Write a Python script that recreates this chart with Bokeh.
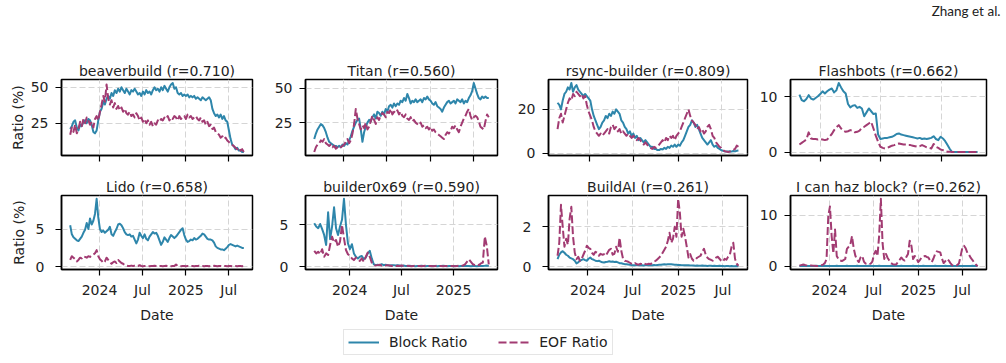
import pandas as pd
from bokeh.plotting import figure
from bokeh.layouts import column, row
from bokeh.models import (Range1d, FixedTicker, CustomJSTickFormatter, Legend,
                          LegendItem, Label, ColumnDataSource)
from bokeh.embed import file_html
from bokeh.resources import INLINE

BLOCK_COLOR = "#2E86AB"
EOF_COLOR = "#A23B72"
LEGEND_LABELS = ["Block Ratio", "EOF Ratio"]

BUILDERS = ["beaverbuild", "Titan", "rsync-builder", "Flashbots",
            "Lido", "builder0x69", "BuildAI", "I can haz block?"]
CORR = [0.710, 0.560, 0.809, 0.662, 0.658, 0.590, 0.261, 0.262]
START_DATES = ["2023-08-30", "2023-08-31", "2023-08-21", "2023-10-30",
               "2023-08-30", "2023-08-29", "2023-08-31", "2023-08-31"]
END_DATES = ["2025-09-03", "2025-09-05", "2025-09-08", "2025-04-21",
             "2025-09-03", "2025-05-05", "2025-09-02", "2025-09-01"]
Y_TICKS = [[25, 50], [25, 50], [0, 20], [0, 10], [0, 5], [0, 5], [0, 2], [0, 10]]
X_TICK_DATES = ["2024-01-01", "2024-07-01", "2025-01-01", "2025-07-01"]
X_TICK_LABELS = ["2024", "Jul", "2025", "Jul"]

beaverbuild_block = [21,23,26,27,22,20,24,23,26,27, 25,28,27,24,19,18,20,27,33,35,
    40,38,42,44,42,46,44,48,46,49, 47,50,48,46,49,47,45,48,47,49,
    47,45,46,44,47,45,48,46,47,45, 48,50,48,49,47,50,48,51,49,47,
    50,52,53,49,50,46,45,46,44,45, 44,45,43,44,43,44,42,43,42,41,
    43,42,41,42,43,41,35,32,30,31, 29,31,28,30,27,26,20,14,10,9, 7,8,6,6,5,5]
beaverbuild_eof = [17,22,19,24,18,21,26,23,28,25, 29,27,24,26,22,28,30,27,33,38,
    44,40,52,42,38,41,36,39,35,37, 34,36,33,35,32,31,33,30,31,29,
    32,30,27,29,26,28,25,27,24,26, 23,25,24,27,26,28,27,29,28,30,
    27,29,28,30,29,27,30,28,29,30, 28,31,29,30,28,29,30,28,27,29,
    26,27,24,26,23,24,21,22,19,18, 17,15,16,14,15,13,12,11,10,9, 8,7,8,6,7,5]

titan_block = [13,17,20,22,24,23,21,18,14,11, 10,9,8,8,7,8,7,9,8,10,
    9,12,15,19,22,25,27,28,20,11, 18,22,25,27,26,29,31,28,33,32,
    30,33,31,35,33,37,38,36,39,37, 39,38,41,40,43,41,46,43,39,41,
    40,42,40,41,42,40,43,42,44,42, 41,39,38,40,37,36,35,33,36,38,
    40,41,39,40,41,39,42,41,40,42, 39,41,40,43,45,48,54,50,46,43, 42,44,43,44,43,43]
titan_eof = [3.5,7,9,10,12,11,13,10,9,8, 9,7,8,6,7,6,7,8,9,11,
    13,10,12,17,24,35,28,24,20,23, 21,25,20,22,26,30,27,24,29,27,
    30,32,31,29,33,32,35,31,33,32, 34,31,33,30,29,31,28,27,29,26,
    27,25,24,23,25,22,23,21,22,20, 22,19,20,18,17,16,15,14,13,16,
    18,17,19,22,21,23,20,18,22,25, 28,30,33,35,30,27,29,30,29,26, 22,21,20,26,31,29]

rsync_block = [23,22,20,24,27,28,30,29,32,28, 30,31,29,28,27,26,27,26,25,24,
    20,17,15,13,11,12,14,15,17,16, 18,17,19,18,20,19,18,15,14,12,
    11,9,10,8,9,7,8,6,7,6, 5,6,5,4,3,3,2,2,1.5,1.5,
    2,1.8,2.5,2,3,2.5,3.5,3,4,3, 4,3.5,5,6,8,10,12,13,15,14,
    12,13,11,9,7,6,5,4,5,6, 4,3,3.5,2.5,2,1.5,1.2,1,0.9,0.8, 1,0.8,1.1,0.9,1.2,1.3]
rsync_eof = [11,16,18,14,17,20,23,25,24,27, 26,28,27,26,27,25,26,22,19,17,
    15,12,10,9,8,9,8,9,10,11, 9,12,13,11,12,10,11,9,10,9,
    8,9,8,7,8,7,6,7,6,5, 4,5,4,3,2.5,2,3,2.5,3,4,
    5,6,5,7,6,8,7,8,6,8, 9,10,12,14,16,18,20,17,15,14,
    13,11,12,10,11,9,10,12,13,11, 8,7,5,4,3,2.5,1.5,1,0.8,0.6, 0.8,1,1.5,2,3.5,3]

flashbots_block = [10.4,9.4,9.2,9.6,10.3,9.7,9.5,9.8,10.1,10.5,
    11.0,10.6,11.0,11.3,11.5,10.8,11.2,12.5,11.7,11.0,
    10.6,8.7,8.1,8.4,8.5,8.0,8.2,7.9,6.5,7.2,
    7.9,7.4,6.9,7.0,3.2,2.4,2.5,2.6,2.6,2.7,
    2.8,3.0,3.3,3.4,3.2,3.1,3.0,2.9,2.8,2.7,
    2.6,2.5,2.6,2.4,2.5,2.4,2.5,2.6,2.9,2.4,
    2.2,2.8,2.5,2.0,1.3,0.6,0.05,0.05,0.05,0.05,
    0.05,0.05,0.05,0.05,0.05,0.05,0.05,0.05]
flashbots_eof = [1.4,1.7,2.0,2.3,3.6,2.5,2.4,2.4,2.3,2.4,
    2.3,2.2,2.3,2.8,3.3,4.0,4.5,4.9,4.3,3.9,
    3.7,3.8,4.0,3.9,3.6,3.7,3.9,4.4,4.6,4.9,
    5.2,5.5,4.3,3.0,1.9,1.0,0.8,0.7,0.8,1.0,
    1.2,1.3,1.5,1.6,1.5,1.4,1.4,1.3,1.3,1.2,
    1.1,1.0,1.1,1.3,1.1,0.9,0.8,0.7,1.5,1.0,
    0.8,0.5,0.4,0.2,0.1,0.1,0.05,0.05,0.05,0.05,
    0.05,0.05,0.05,0.05,0.05,0.05,0.05,0.05]

lido_block = [5.5,4.3,3.9,3.7,3.5,3.4,3.7,4.0,4.5,4.9, 5.8,5.0,6.4,5.6,6.1,7.0,9.0,6.5,5.0,4.6,
    4.8,4.5,4.7,4.9,5.3,4.3,4.1,4.6,5.0,5.6, 5.7,5.5,5.1,4.6,4.3,4.2,4.3,4.0,4.1,3.6,
    3.1,3.6,4.5,4.1,3.8,4.3,3.7,3.5,4.0,4.3, 4.6,4.4,4.5,4.1,3.5,2.9,3.3,3.9,3.6,3.3,
    3.8,4.2,4.0,3.8,4.0,4.3,4.6,4.9,5.1,4.2, 3.6,3.3,3.4,3.6,3.5,3.8,3.6,3.7,3.9,4.1,
    4.4,4.3,4.0,3.7,3.6,3.6,3.5,3.2,2.7,2.5, 2.4,2.3,2.3,2.2,2.4,2.6,2.9,3.0,2.9,2.8,
    2.7,2.8,2.7,2.6,2.5,2.5]
lido_eof = [0.9,1.4,1.2,1.0,0.7,0.9,1.2,1.1,1.4,1.3, 1.2,1.4,1.3,1.5,1.6,1.8,2.2,1.4,1.0,0.8,
    0.5,0.7,1.2,0.9,0.6,0.4,0.6,0.7,0.5,0.9, 0.7,0.5,0.4,0.2,0.15,0.1,0.1,0.15,0.1,0.12,
    0.1,0.1,0.2,0.1,0.08,0.1,0.12,0.1,0.08,0.1, 0.1,0.12,0.1,0.08,0.1,0.1,0.08,0.1,0.12,0.1,
    0.1,0.08,0.1,0.1,0.3,0.12,0.1,0.08,0.1,0.1, 0.08,0.1,0.1,0.12,0.1,0.08,0.1,0.1,0.12,0.1,
    0.1,0.08,0.1,0.1,0.08,0.1,0.1,0.12,0.1,0.08, 0.1,0.1,0.08,0.1,0.1,0.08,0.1,0.1,0.08,0.1,
    0.1,0.08,0.1,0.1,0.08,0.1]

builder0x69_block = [5.2,4.8,4.6,5.1,4.5,3.8,2.6,6.5,3.3,4.8, 7.1,4.6,3.8,4.8,5.6,8.1,5.0,2.8,2.1,2.7,
    1.6,1.2,1.0,1.2,1.3,0.9,1.1,1.6,1.9,1.0, 0.3,0.2,0.25,0.2,0.3,0.2,0.25,0.2,0.15,0.2,
    0.2,0.15,0.2,0.15,0.1,0.15,0.1,0.1,0.12,0.1, 0.1,0.08,0.1,0.1,0.12,0.1,0.08,0.1,0.1,0.08,
    0.1,0.1,0.08,0.1,0.1,0.12,0.1,0.08,0.1,0.1, 0.08,0.1,0.1,0.08,0.1,0.1,0.12,0.1,0.1,0.08,
    0.1,0.1,0.08,0.1,0.1,0.1,0.12,0.15,0.1]
builder0x69_eof = [1.9,1.6,1.8,1.5,2.1,1.2,1.6,1.4,2.6,3.6, 2.9,3.2,2.4,3.0,5.0,3.4,2.0,1.5,1.3,1.0,
    0.8,1.1,0.9,0.7,1.0,0.6,1.2,1.7,1.2,0.5, 0.2,0.15,0.2,0.25,0.15,0.2,0.15,0.2,0.15,0.1,
    0.15,0.1,0.12,0.1,0.15,0.1,0.1,0.12,0.1,0.08, 0.1,0.12,0.1,0.1,0.08,0.1,0.12,0.1,0.1,0.1,
    0.08,0.1,0.12,0.1,0.1,0.08,0.1,0.1,0.12,0.1, 0.1,0.08,0.1,0.12,0.1,0.15,0.3,0.6,0.9,0.6,
    0.3,0.2,0.3,0.2,0.4,0.5,3.6,2.5,0.3]

buildai_block = [0.38,0.6,0.72,0.78,0.7,0.6,0.55,0.46,0.42,0.38, 0.3,0.17,0.22,0.3,0.34,0.38,0.33,0.3,0.4,0.46,
    0.38,0.35,0.3,0.28,0.3,0.26,0.22,0.21,0.24,0.25, 0.27,0.25,0.26,0.24,0.25,0.22,0.18,0.17,0.15,0.13,
    0.12,0.11,0.1,0.08,0.08,0.07,0.07,0.07,0.08,0.07, 0.06,0.07,0.08,0.07,0.07,0.08,0.09,0.08,0.09,0.1,
    0.1,0.11,0.12,0.11,0.12,0.13,0.12,0.11,0.1,0.1, 0.09,0.09,0.08,0.08,0.07,0.07,0.07,0.06,0.06,0.06,
    0.05,0.06,0.05,0.05,0.06,0.05,0.05,0.04,0.05,0.05, 0.04,0.05,0.04,0.04,0.05,0.04,0.04,0.03,0.04,0.04,
    0.03,0.04,0.03,0.03,0.04,0.03]
buildai_eof = [0.55,1.2,3.1,2.0,1.0,1.4,1.1,2.4,3.0,1.5, 0.7,0.38,0.5,0.3,0.4,0.6,0.8,1.05,0.95,0.9,
    0.7,0.6,0.75,0.7,0.55,0.65,0.6,0.63,0.55,0.7, 0.85,0.9,0.6,0.65,1.0,0.75,1.45,0.8,0.4,0.3,
    0.28,0.25,0.2,0.15,0.13,0.18,0.12,0.1,0.15,0.12, 0.17,0.14,0.12,0.15,0.13,0.2,0.25,0.3,0.38,0.46,
    0.55,0.7,0.85,1.0,1.3,1.7,1.2,1.4,2.0,1.5, 3.4,2.7,1.5,1.9,1.5,1.0,0.46,0.63,0.4,0.3,
    0.35,0.45,0.5,0.55,0.75,0.9,0.6,0.45,0.38,0.35, 0.3,0.4,0.46,0.5,0.4,0.3,0.25,0.4,0.35,0.5,
    0.6,1.0,1.2,0.4,0.15,0.05]

ichb_block = [0.05,0.04,0.05,0.06,0.05,0.04,0.05,0.05,0.04,0.05, 0.06,0.05,0.04,0.05,0.05,0.06,0.05,0.04,0.05,0.05,
    0.04,0.05,0.06,0.05,0.05,0.04,0.05,0.05,0.06,0.05, 0.05,0.04,0.05,0.05,0.06,0.05,0.04,0.05,0.05,0.04,
    0.05,0.06,0.05,0.05,0.04,0.05,0.05,0.06,0.05,0.04, 0.05,0.05,0.04,0.05,0.06,0.05,0.05,0.04,0.05,0.05,
    0.06,0.05,0.04,0.05,0.05,0.04,0.05,0.06,0.05,0.05, 0.04,0.05,0.05,0.06,0.05,0.04,0.05,0.05,0.04,0.05,
    0.06,0.05,0.05,0.04,0.05,0.05,0.06,0.05,0.04,0.05, 0.05,0.04,0.05,0.06,0.05,0.05,0.04,0.05,0.05,0.04,
    0.05,0.05,0.06,0.05,0.04,0.05]
ichb_eof = [0.1,0.2,0.3,0.25,0.15,0.1,0.1,0.12,0.1,0.08, 0.05,0.05,0.1,0.2,0.3,0.6,1.4,9.8,11.7,5.9,
    2.5,7.2,2.0,1.4,1.1,1.0,1.2,1.4,3.4,3.8, 4.2,5.9,3.5,2.0,1.2,0.8,1.7,2.0,0.9,0.5,
    0.45,0.4,0.5,0.9,2.4,3.0,2.0,6.0,13.2,4.5, 1.4,2.4,1.6,1.1,0.6,0.4,0.3,0.3,0.8,1.2,
    1.7,1.3,1.1,1.8,2.4,5.0,4.0,1.4,2.0,1.5, 0.8,1.2,1.7,1.9,2.0,1.8,1.7,1.1,0.8,1.5,
    2.4,2.9,2.8,2.7,1.5,0.6,1.0,1.4,1.1,0.6, 0.2,0.1,0.1,0.2,0.5,2.0,3.6,4.0,3.5,2.6,
    2.2,1.6,1.2,0.7,0.3,0.0]

BLOCK = [beaverbuild_block, titan_block, rsync_block, flashbots_block,
         lido_block, builder0x69_block, buildai_block, ichb_block]
EOF = [beaverbuild_eof, titan_eof, rsync_eof, flashbots_eof,
       lido_eof, builder0x69_eof, buildai_eof, ichb_eof]

# layout geometry (pixels)
COL_WIDTHS = [262, 244, 246, 254]
COL_LEFT = [61, 43, 42, 38]
COL_RIGHT = [10, 9, 5, 20]
ROW_HEIGHTS = [120, 150]
ROW_TOP = [24, 20]
ROW_BOTTOM = [20, 55]

FONT = "DejaVu Sans"
TEXT_COLOR = "#222222"
DASH = "8 3"


def ms(t):
    return pd.Timestamp(t).value / 1e6


def panel(i):
    r, c = divmod(i, 4)
    blk, eof = BLOCK[i], EOF[i]
    d_blk = pd.date_range(START_DATES[i], END_DATES[i], periods=len(blk))
    d_eof = pd.date_range(START_DATES[i], END_DATES[i], periods=len(eof))
    x0, x1 = ms(d_blk[0]), ms(d_blk[-1])
    xpad = 0.05 * (x1 - x0)
    vals = list(blk) + list(eof)
    y0, y1 = min(vals), max(vals)
    ypad = 0.05 * (y1 - y0)
    p = figure(width=COL_WIDTHS[c], height=ROW_HEIGHTS[r], x_axis_type="datetime",
               x_range=Range1d(x0 - xpad, x1 + xpad), y_range=Range1d(y0 - ypad, y1 + ypad),
               toolbar_location=None, output_backend="svg",
               min_border_left=COL_LEFT[c], min_border_right=COL_RIGHT[c],
               min_border_top=ROW_TOP[r], min_border_bottom=ROW_BOTTOM[r],
               title=f"{BUILDERS[i]} (r={CORR[i]:.3f})")
    p.title.align = "center"
    p.title.text_font = FONT
    p.title.text_font_size = "14px"
    p.title.text_font_style = "normal"
    p.title.text_color = TEXT_COLOR
    p.title.standoff = 2

    xt = [ms(t) for t in X_TICK_DATES]
    keep = [k for k, t in enumerate(xt) if x0 - xpad <= t <= x1 + xpad]
    tick_pos = [xt[k] for k in keep]
    tick_lab = [X_TICK_LABELS[k] for k in keep]
    xticker = FixedTicker(ticks=tick_pos, minor_ticks=[])
    yticker = FixedTicker(ticks=Y_TICKS[i], minor_ticks=[])
    p.xaxis.ticker = xticker
    p.yaxis.ticker = yticker
    p.xgrid.ticker = xticker
    p.ygrid.ticker = yticker
    if r == 0:
        p.xaxis.formatter = CustomJSTickFormatter(code="return '';")
        p.xaxis.major_label_text_font_size = "0px"
        p.xaxis.major_label_standoff = 0
    else:
        p.xaxis.formatter = CustomJSTickFormatter(args=dict(tpos=tick_pos, tlab=tick_lab), code="""
            let best = 0;
            for (let k = 1; k < tpos.length; k++) {
                if (Math.abs(tpos[k] - tick) < Math.abs(tpos[best] - tick)) best = k;
            }
            return tlab[best];
        """)
        p.xaxis.axis_label = "Date"
        p.xaxis.major_label_standoff = 6
        p.xaxis.axis_label_standoff = 6
    single_digit = max(Y_TICKS[i]) < 10
    p.yaxis.major_label_standoff = 11 if single_digit else 7
    if c == 0:
        p.yaxis.axis_label = "Ratio (%)"
        p.yaxis.axis_label_standoff = 6 if single_digit else 2

    for ax in (p.xaxis[0], p.yaxis[0]):
        ax.axis_line_color = "black"
        ax.axis_line_width = 1.5
        ax.major_tick_line_color = "black"
        ax.major_tick_line_width = 1.2
        ax.major_tick_out = 6
        ax.major_tick_in = 0
        ax.minor_tick_line_color = None
        ax.major_label_text_font = FONT
        ax.major_label_text_color = TEXT_COLOR
        ax.axis_label_text_font = FONT
        ax.axis_label_text_font_size = "14px"
        ax.axis_label_text_font_style = "normal"
        ax.axis_label_text_color = TEXT_COLOR
    if r == 1:
        p.xaxis.major_label_text_font_size = "14px"
    p.yaxis.major_label_text_font_size = "14px"

    for g in (p.xgrid[0], p.ygrid[0]):
        g.grid_line_color = "#d5d5d5"
        g.grid_line_dash = "6 3"
        g.grid_line_width = 1
    p.outline_line_color = "black"
    p.outline_line_width = 1.5
    p.outline_line_alpha = 1
    p.background_fill_color = "white"

    sb = ColumnDataSource(dict(x=d_blk.values, y=blk))
    se = ColumnDataSource(dict(x=d_eof.values, y=eof))
    p.line("x", "y", source=sb, line_color=BLOCK_COLOR, line_width=2, line_join="round")
    p.line("x", "y", source=se, line_color=EOF_COLOR, line_width=2, line_dash=DASH,
           line_join="round")
    return p


panels = [panel(i) for i in range(8)]

header = figure(width=1006, height=55, toolbar_location=None, output_backend="svg",
                x_range=Range1d(0, 1), y_range=Range1d(0, 1), min_border=0,
                x_axis_location=None, y_axis_location=None)
header.grid.visible = False
header.outline_line_color = None
header.add_layout(Label(x=1000, y=45, x_units="screen", y_units="screen", text="Zhang et al.",
                        text_align="right", text_baseline="middle", text_font="Lato",
                        text_font_size="13.5px", text_color="#222222"))

# legend-only figure: sample lines sit outside the visible range, only their legend glyphs show
lf = figure(width=1006, height=38, toolbar_location=None, output_backend="svg",
            x_range=Range1d(0, 1), y_range=Range1d(0, 1), min_border=0,
            x_axis_location=None, y_axis_location=None)
lf.grid.visible = False
lf.outline_line_color = None
rb = lf.line(x=[-5, -4], y=[-5, -4], line_color=BLOCK_COLOR, line_width=2)
re_ = lf.line(x=[-5, -4], y=[-5, -4], line_color=EOF_COLOR, line_width=2, line_dash=DASH)
leg = Legend(items=[LegendItem(label=LEGEND_LABELS[0], renderers=[rb]),
                    LegendItem(label=LEGEND_LABELS[1], renderers=[re_])],
             orientation="horizontal", location=(343, 8),
             glyph_width=31, glyph_height=16, label_standoff=10, spacing=31,
             padding=4, margin=0, border_line_color="#cccccc", border_line_width=1,
             background_fill_color="white", background_fill_alpha=1,
             label_text_font=FONT, label_text_font_size="14px", label_text_color=TEXT_COLOR)
lf.add_layout(leg)

layout = column(header, row(*panels[:4]), row(*panels[4:]), lf)
open("out.html", "w").write(file_html(layout, INLINE))
